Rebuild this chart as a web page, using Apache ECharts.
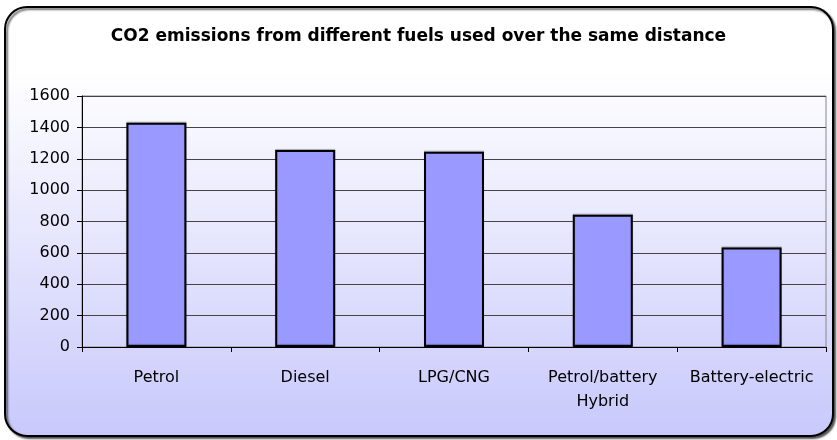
<!DOCTYPE html>
<html>
<head>
<meta charset="utf-8">
<script src="https://cdn.jsdelivr.net/npm/echarts@6/dist/echarts.min.js"></script>
<style>
  html, body { margin: 0; padding: 0; background: #fff; }
  #chart { width: 837px; height: 440px; }
</style>
</head>
<body>
<div id="chart"></div>
<script>
// data
const fuels = ['Petrol', 'Diesel', 'LPG/CNG', 'Petrol/battery\nHybrid', 'Battery-electric']
const emissions = [1430, 1255, 1245, 843, 634]
const yTicks = [0, 200, 400, 600, 800, 1000, 1200, 1400, 1600]

const myChart = echarts.init(document.getElementById('chart'))

myChart.setOption({
  animation: false,
  graphic: [
    {
      type: 'rect',
      z: -10,
      shape: { x: 5, y: 7, width: 828, height: 429, r: 22 },
      style: {
        fill: new echarts.graphic.LinearGradient(0, 0, 0, 1, [
          { offset: 0, color: '#ffffff' },
          { offset: 0.15, color: '#ffffff' },
          { offset: 1, color: '#c8c8fc' }
        ]),
        stroke: '#000',
        lineWidth: 2,
        shadowColor: 'rgba(0,0,0,0.6)',
        shadowOffsetX: 2,
        shadowOffsetY: 2,
        shadowBlur: 2
      }
    }
  ],
  title: {
    text: 'CO2 emissions from different fuels used over the same distance',
    left: 'center',
    top: 23,
    textStyle: {
      fontFamily: 'DejaVu Sans',
      fontSize: 17,
      fontWeight: 'bold',
      color: '#000'
    }
  },
  grid: {
    left: 82,
    right: 11,
    top: 96,
    bottom: 93,
    show: true,
    borderColor: '#888',
    borderWidth: 1,
    backgroundColor: 'transparent'
  },
  xAxis: {
    type: 'category',
    data: fuels,
    axisLine: { lineStyle: { color: '#000', width: 1 } },
    axisTick: { show: true, interval: 0, length: 5, lineStyle: { color: '#000' } },
    axisLabel: {
      interval: 0,
      margin: 19,
      fontFamily: 'DejaVu Sans',
      fontSize: 16,
      lineHeight: 24,
      color: '#000'
    }
  },
  yAxis: {
    type: 'value',
    min: yTicks[0],
    max: yTicks[yTicks.length - 1],
    interval: 200,
    axisLine: { show: true, lineStyle: { color: '#000', width: 1 } },
    axisTick: { show: true, length: 5, lineStyle: { color: '#000' } },
    splitLine: { lineStyle: { color: '#444', width: 1 } },
    axisLabel: {
      margin: 12,
      fontFamily: 'DejaVu Sans',
      fontSize: 16,
      color: '#000',
      formatter: v => String(v)
    }
  },
  series: [
    {
      name: 'CO2',
      type: 'bar',
      data: emissions,
      barWidth: 60,
      itemStyle: {
        color: '#9999ff',
        borderColor: '#000',
        borderWidth: 2,
        shadowColor: 'rgba(0,0,0,0.3)',
        shadowOffsetY: -1,
        shadowBlur: 1
      }
    }
  ]
})
</script>
</body>
</html>
